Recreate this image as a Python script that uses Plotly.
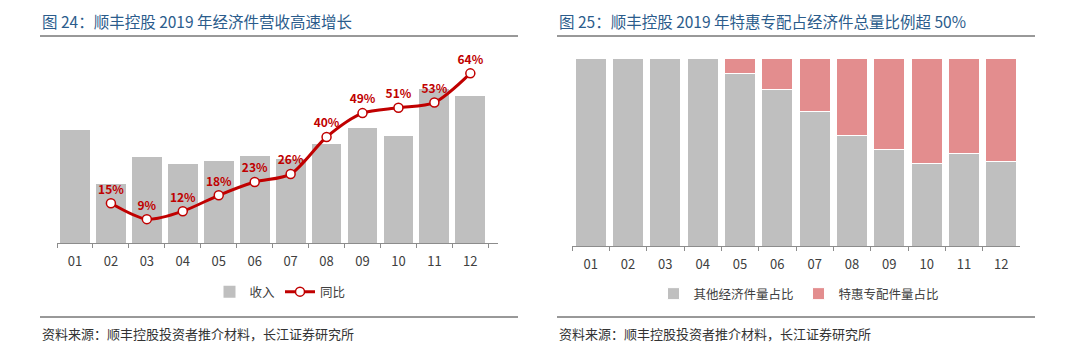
import plotly.graph_objects as go

months = ["01", "02", "03", "04", "05", "06", "07", "08", "09", "10", "11", "12"]
revenue = [11.3, 5.9, 8.6, 7.9, 8.2, 8.7, 8.4, 9.9, 11.5, 10.7, 15.4, 14.7]
yoy_months = ["02", "03", "04", "05", "06", "07", "08", "09", "10", "11", "12"]
yoy = [0.15, 0.09, 0.12, 0.18, 0.23, 0.26, 0.40, 0.49, 0.51, 0.53, 0.64]
tehui_share = [0.0, 0.0, 0.0, 0.0, 0.085, 0.169, 0.285, 0.41, 0.488, 0.562, 0.509, 0.55]
other_share = [1 - v for v in tehui_share]

FONT = "Noto Sans CJK SC"
GRAY = "#BFBFBF"
PINK = "#E38D8E"
RED = "#C00000"
TITLE_BLUE = "#2B5C8C"
W, H = 1080, 353

def px(x):
    return x / W

def py(y):
    return 1 - y / H

fig = go.Figure()

fig.add_trace(go.Bar(
    x=months, y=revenue, name="收入", marker=dict(color=GRAY, line=dict(width=0)),
    xaxis="x", yaxis="y", legend="legend",
))
fig.add_trace(go.Scatter(
    x=yoy_months, y=yoy, name="同比", mode="lines+markers+text",
    line=dict(color=RED, width=3, shape="spline", smoothing=0.8),
    marker=dict(symbol="circle", size=9, color="white", line=dict(color=RED, width=1.5)),
    text=[f"{round(v*100)}%" for v in yoy], textposition="top center",
    textfont=dict(family=FONT, size=12, color=RED, weight="bold"),
    xaxis="x", yaxis="y2", legend="legend", cliponaxis=False,
))

fig.add_trace(go.Bar(
    x=months, y=other_share, name="其他经济件量占比",
    marker=dict(color=GRAY, line=dict(color="white", width=1)),
    xaxis="x2", yaxis="y3", legend="legend2",
))
fig.add_trace(go.Bar(
    x=months, y=tehui_share, name="特惠专配件量占比",
    marker=dict(color=PINK, line=dict(color="white", width=1)),
    xaxis="x2", yaxis="y3", legend="legend2",
))

axis_common = dict(
    showline=True, linecolor="#8C8C8C", linewidth=1, ticks="outside", tickcolor="#8C8C8C",
    ticklen=4, tickson="boundaries", showgrid=False, zeroline=False, ticklabelstandoff=6,
    tickfont=dict(family=FONT, size=13, color="#404040"), fixedrange=True,
)

fig.update_layout(
    width=W, height=H, margin=dict(l=0, r=0, t=0, b=0),
    paper_bgcolor="white", plot_bgcolor="white",
    barmode="stack", showlegend=True,
    font=dict(family=FONT, color="#404040"),
    xaxis=dict(domain=[px(57), px(498)], anchor="y", **axis_common),
    yaxis=dict(domain=[py(243), py(45)], range=[0, 19.8], visible=False),
    yaxis2=dict(overlaying="y", range=[0, 0.747], visible=False, anchor="x"),
    xaxis2=dict(domain=[px(572), px(1020)], anchor="y3", **axis_common),
    yaxis3=dict(domain=[py(246), py(58)], range=[0, 1], visible=False, anchor="x2"),
    bargap=0.17,
    legend=dict(orientation="h", x=px(280), y=py(292), xanchor="center", yanchor="middle",
                font=dict(family=FONT, size=12.5, color="#404040"), bgcolor="rgba(0,0,0,0)",
                itemwidth=30, traceorder="normal"),
    legend2=dict(orientation="h", x=px(799), y=py(294), xanchor="center", yanchor="middle",
                 font=dict(family=FONT, size=12.5, color="#404040"), bgcolor="rgba(0,0,0,0)",
                 itemwidth=30, traceorder="normal"),
)

# separator lines
for x0, x1 in [(40, 518), (557, 1035)]:
    for yy in [36, 317]:
        fig.add_shape(type="line", xref="paper", yref="paper", x0=px(x0), x1=px(x1),
                      y0=py(yy), y1=py(yy), line=dict(color="#333333", width=1))

fig.add_annotation(x=px(40), y=py(21), xref="paper", yref="paper", xanchor="left", yanchor="middle",
                   text="图 24：顺丰控股 2019 年经济件营收高速增长", showarrow=False,
                   font=dict(family=FONT, size=15.5, color=TITLE_BLUE))
fig.add_annotation(x=px(557), y=py(21), xref="paper", yref="paper", xanchor="left", yanchor="middle",
                   text="图 25：顺丰控股 2019 年特惠专配占经济件总量比例超 50%", showarrow=False,
                   font=dict(family=FONT, size=15.5, color=TITLE_BLUE))
for x0 in [40, 557]:
    fig.add_annotation(x=px(x0), y=py(333), xref="paper", yref="paper", xanchor="left", yanchor="middle",
                       text="资料来源：顺丰控股投资者推介材料，长江证券研究所", showarrow=False,
                       font=dict(family=FONT, size=13, color="#333333"))

fig.write_html("out.html")
